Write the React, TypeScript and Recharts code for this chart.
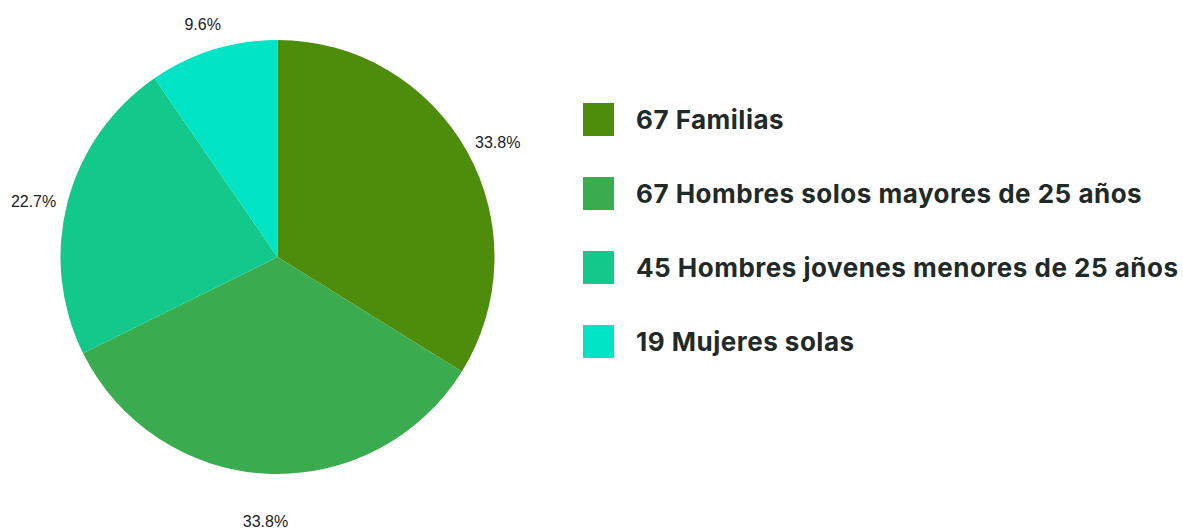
import React from "react";
import { PieChart, Pie, Cell, Legend } from "recharts";

const categories = [
  "67 Familias",
  "67 Hombres solos mayores de 25 años",
  "45 Hombres jovenes menores de 25 años",
  "19 Mujeres solas",
];
const values = [67, 67, 45, 19];
const colors = ["#4e8c0c", "#3aab4f", "#12c98b", "#00e3c5"];

const data = categories.map((name, i) => ({ name, value: values[i] }));
const total = values.reduce((a, b) => a + b, 0);

const RADIAN = Math.PI / 180;

const renderLabel = (props: any) => {
  const { cx, cy, midAngle, outerRadius, value } = props;
  const R = outerRadius + 35;
  const c = Math.cos(-midAngle * RADIAN);
  const s = Math.sin(-midAngle * RADIAN);
  const x = cx + R * c;
  const y = cy + R * s + 8 + 5 * Math.max(0, s);
  return (
    <text
      x={x}
      y={y}
      textAnchor="middle"
      dominantBaseline="central"
      fill="#222222"
      style={{ fontSize: 16, fontFamily: "'Liberation Sans', Arial, sans-serif" }}
    >
      {((value / total) * 100).toFixed(1)}%
    </text>
  );
};

const renderLegend = () => (
  <div>
    {categories.map((name, i) => (
      <div
        key={name}
        style={{ display: "flex", alignItems: "center", height: 74 }}
      >
        <div
          style={{
            width: 31,
            height: 33,
            background: colors[i],
            marginRight: 22,
            flexShrink: 0,
          }}
        />
        <span
          style={{
            fontFamily: "Inter, 'Noto Sans', sans-serif",
            fontWeight: 700,
            fontSize: 26,
            letterSpacing: 0.5,
            color: "#222a28",
            whiteSpace: "nowrap",
          }}
        >
          {name}
        </span>
      </div>
    ))}
  </div>
);

export default function App() {
  return (
    <div style={{ position: "absolute", left: 0, top: 0 }}>
      <style>{`body{margin:0}`}</style>
      <PieChart
        width={1183}
        height={529}
        margin={{ top: 0, right: 0, bottom: 0, left: 0 }}
      >
        <Pie
          data={data}
          dataKey="value"
          nameKey="name"
          cx={277.5}
          cy={257}
          outerRadius={217}
          startAngle={90}
          endAngle={-270}
          stroke="none"
          label={renderLabel}
          labelLine={false}
          isAnimationActive={false}
        >
          {data.map((d, i) => (
            <Cell key={d.name} fill={colors[i]} />
          ))}
        </Pie>
        <Legend
          content={renderLegend}
          layout="vertical"
          wrapperStyle={{ left: 583, top: 82, width: 600 }}
        />
      </PieChart>
    </div>
  );
}
